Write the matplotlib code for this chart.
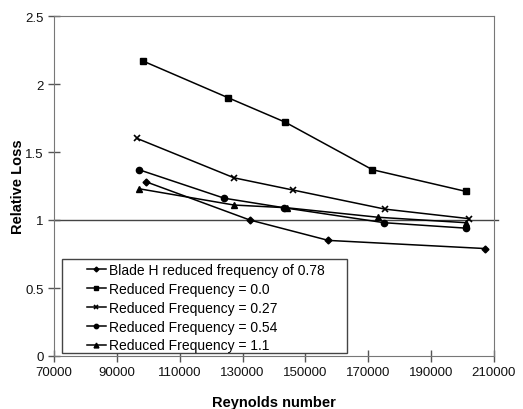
import matplotlib.pyplot as plt
from matplotlib.patches import Rectangle

plt.rcParams['font.family'] = ['Liberation Sans', 'DejaVu Sans']

re_blade = [99400, 132300, 157300, 207200]
loss_blade = [1.28, 1.0, 0.85, 0.79]

re_00 = [98200, 125300, 143500, 171300, 201100]
loss_00 = [2.17, 1.90, 1.72, 1.37, 1.21]

re_027 = [96400, 127300, 146100, 175300, 202000]
loss_027 = [1.60, 1.31, 1.22, 1.08, 1.01]

re_054 = [97000, 124200, 143200, 175100, 201100]
loss_054 = [1.37, 1.16, 1.09, 0.98, 0.94]

re_11 = [97000, 127300, 144100, 173200, 201100]
loss_11 = [1.23, 1.11, 1.09, 1.02, 0.98]

W, H = 523, 410
fig = plt.figure(figsize=(W / 100, H / 100), dpi=100)
ax = fig.add_axes([54 / W, 53 / H, 440 / W, 340 / H])

lw = 1.1
ax.plot(re_blade, loss_blade, color='black', lw=lw, marker='D', ms=3.5,
        label='Blade H reduced frequency of 0.78')
ax.plot(re_00, loss_00, color='black', lw=lw, marker='s', ms=5,
        label='Reduced Frequency = 0.0')
ax.plot(re_027, loss_027, color='black', lw=lw, marker='x', ms=5, mew=1.2,
        label='Reduced Frequency = 0.27')
ax.plot(re_054, loss_054, color='black', lw=lw, marker='o', ms=4.5,
        label='Reduced Frequency = 0.54')
ax.plot(re_11, loss_11, color='black', lw=lw, marker='^', ms=5,
        label='Reduced Frequency = 1.1')

ax.axhline(1.0, color='#444444', lw=1.0, zorder=0, xmax=1.01, clip_on=False)

ax.set_xlim(70000, 210000)
ax.set_ylim(0, 2.5)
ax.set_xticks(range(70000, 210001, 20000))
ax.set_yticks([0, 0.5, 1, 1.5, 2, 2.5])
ax.set_yticklabels(['0', '0.5', '1', '1.5', '2', '2.5'])
ax.tick_params(direction='inout', length=8, width=1, colors='#555555',
               labelcolor='#111111', labelsize=9.5)
for s in ax.spines.values():
    s.set_color('#777777')

ax.set_xlabel('Reynolds number', fontsize=10.5, fontweight='bold', labelpad=12)
ax.set_ylabel('Relative Loss', fontsize=10.5, fontweight='bold', labelpad=0)

# legend frame drawn separately so the padding matches the original
frame = Rectangle((62 / W, (H - 354) / H), 285 / W, 94 / H,
                  transform=fig.transFigure, facecolor='white',
                  edgecolor='#444444', lw=1.0, zorder=5, clip_on=False)
ax.add_patch(frame)
leg = ax.legend(loc='upper left', bbox_to_anchor=(87 / W, (H - 264) / H),
                bbox_transform=fig.transFigure, fontsize=10, frameon=False,
                handlelength=1.35, handletextpad=0.2, borderpad=0,
                labelspacing=0.35, borderaxespad=0, markerscale=0.7)
leg.set_zorder(6)

fig.savefig('out.png', dpi=100)
